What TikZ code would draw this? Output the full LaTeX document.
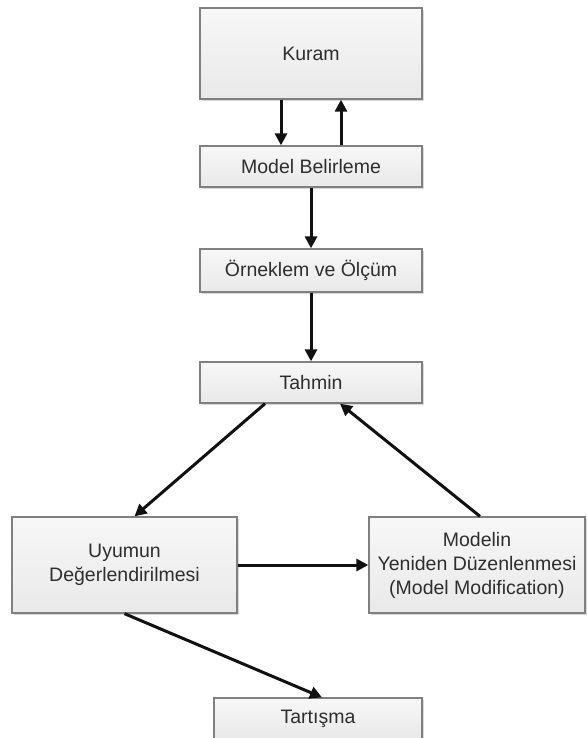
\documentclass[tikz,border=0pt]{standalone}
\usepackage{fontspec}
\setmainfont{Liberation Sans}
\usepackage{xcolor}
\usepackage{tikz}
\usetikzlibrary{positioning,arrows.meta,shadows}

\definecolor{boxline}{HTML}{808080}
\definecolor{boxtop}{HTML}{F7F7F7}
\definecolor{boxbot}{HTML}{E9E9E9}
\definecolor{txt}{HTML}{2E2E2E}
\definecolor{arrcol}{HTML}{111111}

\begin{document}
\begin{tikzpicture}[
      x=1pt, y=-1pt,
      font=\fontsize{19.5}{24}\selectfont,
      box/.style={draw=boxline, line width=1.3pt, rectangle,
                  top color=boxtop, bottom color=boxbot,
                  text=txt, align=center, inner sep=0pt,
                  drop shadow={shadow xshift=2pt, shadow yshift=-2pt,
                               fill=black!25, opacity=0.6}},
      arr/.style={draw=arrcol, line width=3pt,
                  -{Triangle[length=12pt,width=12pt]}},
    ]
    \useasboundingbox (0,0) rectangle (586,738);
    \node[box, minimum width=222pt, minimum height=91pt] (kuram) at (311,53.5) {Kuram};
    \node[box, minimum width=222pt, minimum height=41pt] (belirle) at (311,166.5) {Model Belirleme};
    \node[box, minimum width=222pt, minimum height=43pt] (olcum) at (311,270.5) {Örneklem ve Ölçüm};
    \node[box, minimum width=222pt, minimum height=41pt] (tahmin) at (311,382.5) {Tahmin};
    \node[box, minimum width=225pt, minimum height=96pt] (uyum) at (124.5,565) {Uyumun\\Değerlendirilmesi};
    \node[box, minimum width=216pt, minimum height=96pt] (modif) at (477,565)
         {Modelin\\Yeniden Düzenlenmesi\\(Model Modification)};
    \node[box, minimum width=208pt, minimum height=41pt] (tartis) at (318,718.5) {Tartışma};
    \draw[arr] ([xshift=-30pt]kuram.south) -- ([xshift=-30pt]belirle.north);
    \draw[arr] ([xshift=30pt]belirle.north) -- ([xshift=30pt]kuram.south);
    \draw[arr] (belirle) -- (olcum);
    \draw[arr] (olcum) -- (tahmin);
    \draw[arr] ([xshift=-46pt]tahmin.south) -- ([xshift=10pt]uyum.north);
    \draw[arr] ([xshift=3pt]modif.north) -- ([xshift=29pt]tahmin.south);
    \draw[arr] (uyum) -- (modif);
    \draw[arr] (uyum.south) -- ([xshift=4pt]tartis.north);
\end{tikzpicture}
\end{document}
